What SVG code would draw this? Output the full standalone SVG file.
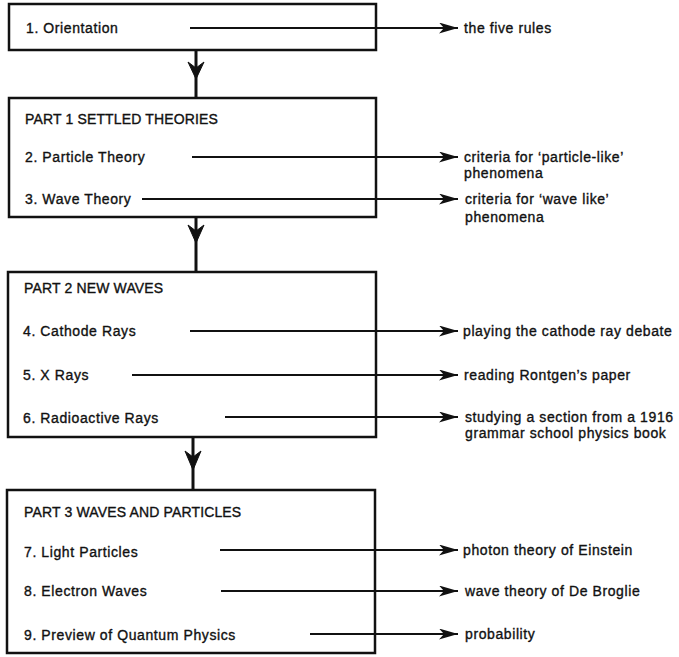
<svg xmlns="http://www.w3.org/2000/svg" width="679" height="657" viewBox="0 0 679 657">
<style>
  .box { fill: #fff; stroke: #111; stroke-width: 2.5; }
  .t { font-family: "Liberation Sans", Arial, sans-serif; font-size: 14px; fill: #111; stroke: #111; stroke-width: 0.35; letter-spacing: 0.6px; }
  .h { letter-spacing: 0.15px; }
  .hl { stroke: #111; stroke-width: 2; fill: none; marker-end: url(#dart); }
  .vl { stroke: #111; stroke-width: 3; fill: none; }
  .vh { fill: #111; stroke: #111; stroke-width: 1; }
</style>
<defs>
  <marker id="dart" markerUnits="userSpaceOnUse" markerWidth="20" markerHeight="11" refX="19" refY="5.5" orient="auto">
    <path d="M0,0 L19,5.5 L0,11 L5,5.5 z" fill="#111"/>
  </marker>
</defs>
<rect width="679" height="657" fill="#fff"/>

<g id="node-orientation">
  <rect class="box" x="9" y="4" width="367" height="46"/>
  <text class="t" x="26" y="33">1. Orientation</text>
</g>
<g id="node-part1">
  <rect class="box" x="9" y="98" width="367" height="119"/>
  <text class="t h" x="25" y="124">PART 1 SETTLED THEORIES</text>
  <text class="t" x="25" y="162">2. Particle Theory</text>
  <text class="t" x="25" y="204">3. Wave Theory</text>
</g>
<g id="node-part2">
  <rect class="box" x="8" y="272" width="368" height="165"/>
  <text class="t h" x="24" y="293">PART 2 NEW WAVES</text>
  <text class="t" x="23" y="336">4. Cathode Rays</text>
  <text class="t" x="23" y="380">5. X Rays</text>
  <text class="t" x="23" y="423">6. Radioactive Rays</text>
</g>
<g id="node-part3">
  <rect class="box" x="7" y="490" width="368" height="163"/>
  <text class="t h" x="24" y="517">PART 3 WAVES AND PARTICLES</text>
  <text class="t" x="24" y="557">7. Light Particles</text>
  <text class="t" x="24" y="596">8. Electron Waves</text>
  <text class="t" x="24" y="640">9. Preview of Quantum Physics</text>
</g>

<g id="outcomes">
  <text class="t" x="464" y="33">the five rules</text>
  <text class="t" x="464" y="162">criteria for ‘particle-like’</text>
  <text class="t" x="464" y="178">phenomena</text>
  <text class="t" x="465" y="204">criteria for ‘wave like’</text>
  <text class="t" x="465" y="222">phenomena</text>
  <text class="t" x="463" y="336">playing the cathode ray debate</text>
  <text class="t" x="464" y="380">reading Rontgen’s paper</text>
  <text class="t" x="465" y="422">studying a section from a 1916</text>
  <text class="t" x="465" y="438">grammar school physics book</text>
  <text class="t" x="463" y="555">photon theory of Einstein</text>
  <text class="t" x="465" y="596">wave theory of De Broglie</text>
  <text class="t" x="465" y="639">probability</text>
</g>

<g id="connectors">
  <line class="vl" x1="196" y1="50" x2="196" y2="98"/>
  <path class="vh" d="M188,62 L196,79 L204,62 L196,68 z"/>
  <line class="vl" x1="196" y1="217" x2="196" y2="272"/>
  <path class="vh" d="M188,225 L196,243 L204,225 L196,231 z"/>
  <line class="vl" x1="193" y1="437" x2="193" y2="490"/>
  <path class="vh" d="M185,451 L193,470 L201,451 L193,457 z"/>

  <line class="hl" x1="190" y1="28" x2="458" y2="28"/>
  <line class="hl" x1="192" y1="157" x2="458" y2="157"/>
  <line class="hl" x1="142" y1="199" x2="458" y2="199"/>
  <line class="hl" x1="190" y1="331" x2="458" y2="331"/>
  <line class="hl" x1="132" y1="375" x2="458" y2="375"/>
  <line class="hl" x1="225" y1="417" x2="458" y2="417"/>
  <line class="hl" x1="220" y1="550" x2="458" y2="550"/>
  <line class="hl" x1="221" y1="591" x2="458" y2="591"/>
  <line class="hl" x1="310" y1="634" x2="458" y2="634"/>
</g>
</svg>
